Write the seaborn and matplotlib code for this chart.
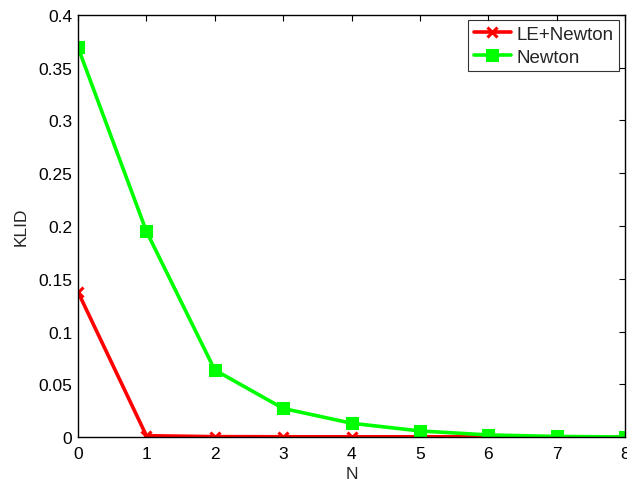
import numpy as np
import pandas as pd
import matplotlib
matplotlib.use("Agg")
import matplotlib.pyplot as plt
import seaborn as sns

n_steps = [0, 1, 2, 3, 4, 5, 6, 7, 8]
klid_le_newton = [0.1375, 0.0015, 0.0006, 0.0005, 0.0005, 0.0005, 0.0004, 0.0003, 0.0002]
klid_newton = [0.369, 0.195, 0.0637, 0.0273, 0.0133, 0.0060, 0.0022, 0.0008, 0.0003]
series_names = ["LE+Newton", "Newton"]
x_ticks = [0, 1, 2, 3, 4, 5, 6, 7, 8]
y_ticks = [0, 0.05, 0.1, 0.15, 0.2, 0.25, 0.3, 0.35, 0.4]

sns.set_theme(style="white")
plt.rcParams["font.family"] = ["Liberation Sans", "DejaVu Sans"]

fig = plt.figure(figsize=(6.27, 4.81), dpi=100)
ax = fig.add_axes([0.1244, 0.0888, 0.8726, 0.8786])

styles = [
    (series_names[0], klid_le_newton, "#ff0000", "x"),
    (series_names[1], klid_newton, "#00ff00", "s"),
]
for name, values, color, marker in styles:
    sns.lineplot(x=n_steps, y=values, color=color, marker=marker,
                 markersize=6.5, markeredgecolor=color, markerfacecolor=color,
                 markeredgewidth=2.2, linewidth=2.6, label=name, ax=ax)

ax.set_xlim(0, 8)
ax.set_ylim(0, 0.4)
ax.set_xticks(x_ticks)
ax.set_xticklabels([str(t) for t in x_ticks])
ax.set_yticks(y_ticks)
ax.set_yticklabels(["0", "0.05", "0.1", "0.15", "0.2", "0.25", "0.3", "0.35", "0.4"])
ax.tick_params(direction="in", length=4, width=0.8, top=True, right=True,
               labelsize=12.5, colors="black", pad=4)
ax.tick_params(axis="x", pad=6)
for s in ax.spines.values():
    s.set_color("black")
    s.set_linewidth(1.0)
ax.set_xlabel("N", fontsize=12.5, labelpad=4)
ax.set_ylabel("KLID", fontsize=12.5, labelpad=7)

leg = ax.legend(loc="upper right", fontsize=13.5, frameon=True,
                fancybox=False, edgecolor="black", borderpad=0.3, handlelength=2.0,
                handletextpad=0.3, labelspacing=0.3, borderaxespad=0.3)
leg.get_frame().set_linewidth(0.8)

fig.savefig("out.png", dpi=100)
